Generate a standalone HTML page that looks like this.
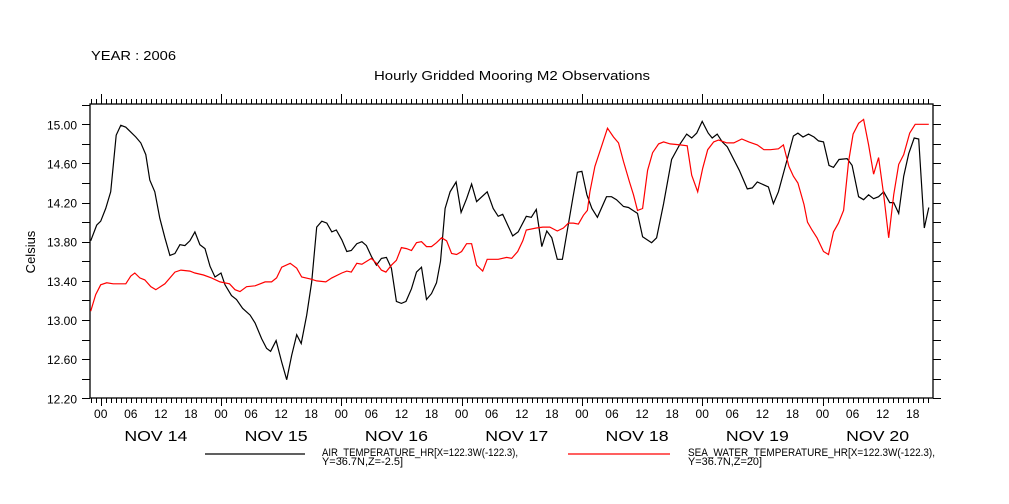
<!DOCTYPE html>
<html><head><meta charset="utf-8"><style>
body{margin:0;background:#fff}
svg{display:block;font-family:"Liberation Sans",sans-serif}
</style></head><body>
<svg id="c" width="1009" height="504"></svg>
<script>
const airHours=[-2,-0.8,0,1,2,2.4,3.1,4,5,7,8,9,9.8,10.8,11.8,12.8,13.8,14.8,15.8,16.8,17.8,18.8,19.8,20.8,21.8,22.8,24,24.8,26.1,27.1,28.3,29.8,30.8,32.1,33.1,33.9,35,36.1,37.1,38.1,39.1,40,41.1,42.1,43.1,44.1,45.1,46.1,47,48.1,49.1,50,51.1,52.1,53,54,55,56,57,58,59,60,60.9,62,63,64,65,66,67,67.8,68.7,69.7,70.9,71.9,73,74,75,77.1,78.3,79.3,80.2,82.2,83.3,84.9,85.9,86.9,88,89,90,91.1,92.1,94.2,95.1,96,97,98,99.1,100.9,101.9,102.9,104.3,105.3,107.1,108.1,109.9,110.9,112.3,113.9,115.6,116.9,117.9,118.9,120,121.2,122,123,124,125,127.4,129,130,131,133.2,134.2,135.2,137,138.2,139.1,140.1,141.2,142.3,143.2,144.2,145.3,146.2,147.3,148.9,149.9,151.2,152.2,153.2,154.2,155.2,156.2,157.4,158.2,159.2,160.2,161.2,162.3,163.2,164.3,165.2];
const airValues=[13.81,13.97,14.01,14.14,14.31,14.52,14.89,14.99,14.97,14.87,14.81,14.69,14.43,14.31,14.04,13.84,13.66,13.68,13.77,13.76,13.81,13.90,13.77,13.73,13.55,13.44,13.48,13.36,13.25,13.21,13.12,13.05,12.97,12.81,12.71,12.68,12.79,12.57,12.39,12.64,12.85,12.76,13.05,13.39,13.95,14.01,13.99,13.90,13.92,13.82,13.70,13.71,13.78,13.80,13.76,13.65,13.56,13.63,13.64,13.53,13.19,13.17,13.19,13.32,13.49,13.54,13.21,13.27,13.38,13.60,14.14,14.31,14.41,14.10,14.24,14.39,14.21,14.31,14.14,14.06,14.08,13.86,13.90,14.06,14.05,14.13,13.75,13.91,13.84,13.62,13.62,14.25,14.51,14.52,14.28,14.14,14.05,14.26,14.26,14.23,14.16,14.15,14.09,13.85,13.79,13.84,14.19,14.64,14.80,14.90,14.86,14.91,15.03,14.91,14.86,14.90,14.82,14.77,14.53,14.34,14.35,14.41,14.36,14.19,14.31,14.65,14.88,14.91,14.87,14.90,14.87,14.83,14.82,14.58,14.56,14.64,14.65,14.58,14.26,14.23,14.28,14.24,14.26,14.31,14.20,14.20,14.09,14.47,14.70,14.86,14.85,13.94,14.15];
const seaHours=[-2,-1,0,1.2,2.5,5,6,6.8,7.8,8.8,10,11,12.8,14.8,16,17.8,18.8,20.5,22.1,23.8,25.7,26.8,27.8,29.1,30.8,32.8,34.1,35.1,36.1,37.8,39.1,40.1,41.8,43.1,44.9,46.1,48.1,49.1,50,51.1,52.1,54,55,56,56.9,58,59,60,61,62,63,64,65,66,67,68,69,70,71,72,73,74,75,76.2,77.1,79.3,81,82,83.2,84.2,84.9,86.9,88.2,89.6,91.1,92.3,93.3,94.3,95.3,96.3,97.1,97.6,98.6,100,101.1,102.3,103.3,104.3,105.5,106.3,107.1,108.1,109.1,110.1,111.3,112.3,113.6,115.6,117,117.9,119.1,120.1,121.1,122.3,123.3,124.9,126.3,127.9,129.3,131,132.3,133.6,135.2,136.2,137.3,138.2,139.1,140.3,141,141.9,142.9,144.2,145.2,146.2,147.2,148.2,149.2,150.1,151.2,152.2,153.2,154.2,155.2,156.2,157.2,158.2,159.2,160.2,161.4,162.5,165.2];
const seaValues=[13.09,13.26,13.36,13.38,13.37,13.37,13.45,13.48,13.43,13.41,13.34,13.31,13.37,13.49,13.51,13.50,13.48,13.46,13.43,13.39,13.37,13.31,13.29,13.34,13.35,13.39,13.39,13.43,13.54,13.58,13.53,13.44,13.42,13.40,13.39,13.43,13.48,13.50,13.49,13.58,13.57,13.63,13.58,13.51,13.49,13.56,13.61,13.74,13.73,13.71,13.79,13.80,13.75,13.75,13.79,13.84,13.81,13.68,13.67,13.70,13.78,13.78,13.56,13.50,13.62,13.62,13.64,13.63,13.70,13.81,13.92,13.94,13.95,13.95,13.91,13.94,13.99,13.99,13.98,14.07,14.12,14.31,14.57,14.79,14.96,14.87,14.81,14.62,14.41,14.28,14.12,14.14,14.53,14.71,14.80,14.82,14.80,14.79,14.78,14.48,14.31,14.55,14.74,14.82,14.84,14.81,14.81,14.85,14.82,14.79,14.74,14.74,14.75,14.79,14.57,14.47,14.40,14.18,14.00,13.92,13.84,13.70,13.67,13.90,13.99,14.12,14.62,14.90,15.01,15.05,14.79,14.49,14.66,14.28,13.84,14.28,14.59,14.69,14.91,15.00,15.00];
const yTickLabels=["12.20","12.60","13.00","13.40","13.80","14.20","14.60","15.00"];
const dayLabels=["NOV 14","NOV 15","NOV 16","NOV 17","NOV 18","NOV 19","NOV 20"];
const hourLabels=["00","06","12","18"];

const svg=document.getElementById('c');const NS='http://www.w3.org/2000/svg';
const L=90,R=933,T=104,B=398;
const xS=h=>100.7+h*5.0125;
const yS=v=>124.3+(15-v)*97.86;
function mk(tag,at,parent){const e=document.createElementNS(NS,tag);for(const k in at)e.setAttribute(k,at[k]);(parent||svg).appendChild(e);return e;}
function txt(s,x,y,size,anchor,name,len){const t=mk('text',{x:x,y:y,'font-size':size,'text-anchor':anchor||'start',fill:'#000'});t.textContent=s;
if(len){t.setAttribute('textLength',len);t.setAttribute('lengthAdjust','spacingAndGlyphs');}


return t;}
txt("YEAR : 2006",91,60,13,'start','year-label',85);
txt("Hourly Gridded Mooring M2 Observations",512,80,13,'middle','chart-title',276);
const yt=txt("Celsius",35,252,13,'middle','y-axis-title');yt.setAttribute('transform','rotate(-90 35 252)');
const frame=mk('rect',{x:L,y:T,width:R-L,height:B-T,fill:'none',stroke:'#000','stroke-width':1.3});


let p='';
for(let v=12.2;v<=15.21;v+=0.2){const y=Math.round(yS(v))+0.5;p+=`M${L-8},${y}H${L}M${R},${y}H${R+8}`;}
yTickLabels.forEach(s=>{txt(s,77,yS(parseFloat(s))+5,12,'end','y-tick-label');});
for(let h=-2;h<=166;h++){const x=Math.round(xS(h))+0.5;const major=(h%24===0);const len=major?8:5;if(x<L||x>R)continue;
p+=`M${x},${T}V${T-(major?10:5)}M${x},${B}V${B+len}`;}
const tk=mk('path',{d:p,stroke:'#000','stroke-width':1,fill:'none'});


for(let h=0;h<=162;h+=6){txt(hourLabels[(h/6)%4],xS(h),418,12,'middle','x-hour-label');}
dayLabels.forEach((d,i)=>{txt(d,xS(i*24+12)-5,441,15,'middle','x-day-label',63);});
function line(hs,vs,color,name){const d=hs.map((h,i)=>(i?'L':'M')+xS(h).toFixed(1)+','+yS(vs[i]).toFixed(1)).join('');
const e=mk('path',{d:d,stroke:color,'stroke-width':1.2,fill:'none'});

}
line(airHours,airValues,'#000','air-temperature-line');
line(seaHours,seaValues,'#f00','sea-water-temperature-line');
const l1=mk('line',{x1:205,y1:454,x2:305,y2:454,stroke:'#000','stroke-width':1.2});


txt("AIR_TEMPERATURE_HR[X=122.3W(-122.3),",322,456,11,'start','legend-air-label',196);
txt("Y=36.7N,Z=-2.5]",322,465,11,'start','legend-air-label-2',81);
const l2=mk('line',{x1:568,y1:454,x2:670,y2:454,stroke:'#f00','stroke-width':1.2});


txt("SEA_WATER_TEMPERATURE_HR[X=122.3W(-122.3),",688,456,11,'start','legend-sea-label',247);
txt("Y=36.7N,Z=20]",688,465,11,'start','legend-sea-label-2',74);
</script>
</body></html>
